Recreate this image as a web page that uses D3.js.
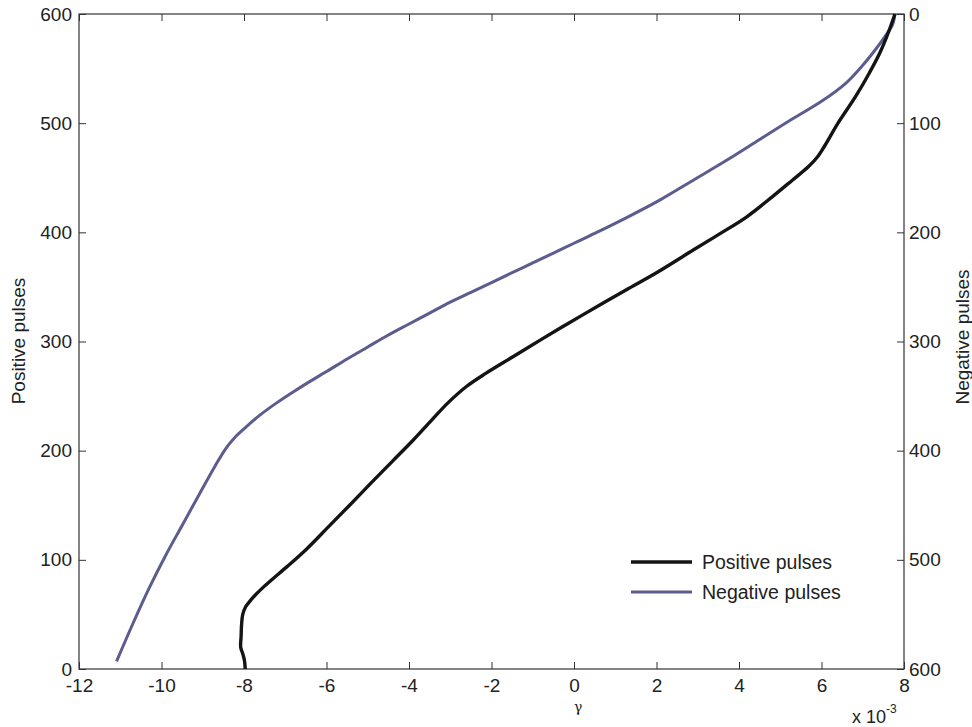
<!DOCTYPE html>
<html>
<head>
<meta charset="utf-8">
<script src="https://cdn.jsdelivr.net/npm/d3@7"></script>
<style>
  html, body { margin: 0; padding: 0; background: #fff; }
  svg { display: block; font-family: "Liberation Sans", Arial, Helvetica, sans-serif; }
</style>
</head>
<body>
<svg id="chart" width="972" height="727"></svg>
<script>
// ---- data (gamma in units of 1e-3) ----
const xTicks = [-12, -10, -8, -6, -4, -2, 0, 2, 4, 6, 8];
const yTicksLeft = [0, 100, 200, 300, 400, 500, 600];
const yTicksRight = [0, 100, 200, 300, 400, 500, 600];

// Positive pulses (left axis)
const positivePulse = [0, 8, 14, 20, 30, 40, 50, 57, 62, 68, 75, 82, 94, 110, 130, 150, 170, 190, 210, 228, 244, 259, 271, 286, 301, 313, 323, 347, 363, 384, 399, 414, 433, 448, 460, 470, 480, 500, 524, 546, 564, 585, 600];
const positiveGamma = [-7.97, -7.99, -8.03, -8.08, -8.07, -8.06, -8.03, -7.96, -7.86, -7.72, -7.53, -7.32, -6.95, -6.48, -5.96, -5.44, -4.93, -4.41, -3.89, -3.45, -3.05, -2.60, -2.13, -1.48, -0.83, -0.30, 0.15, 1.25, 2.0, 2.9, 3.55, 4.18, 4.82, 5.30, 5.68, 5.92, 6.09, 6.40, 6.82, 7.16, 7.41, 7.64, 7.78];

// Negative pulses (right axis, reversed)
const negativeGamma = [7.78, 7.72, 7.55, 7.3, 7.0, 6.6, 6.0, 5.3, 4.5, 3.7, 2.9, 2.1, 1.3, 0.5, 0.0, -0.5, -1.0, -1.5, -2.0, -2.5, -3.0, -3.5, -4.0, -4.5, -5.0, -5.5, -6.0, -6.4, -6.8, -7.2, -7.6, -8.0, -8.25, -8.45, -8.7, -9.1, -9.5, -9.9, -10.3, -10.7, -11.09];
const negativePulse = [0, 10, 20, 33, 47, 63, 80, 96, 115, 134, 152, 170, 186, 201, 210, 219, 228, 237, 246, 255, 264, 274, 284, 294, 305, 316, 327.5, 336.5, 346, 356, 367, 380, 389, 398.5, 414, 441, 468.5, 496, 526, 559, 593];

// ---- layout ----
const svg = d3.select("#chart");
const mLeft = 79, mRight = 904, mTop = 14, mBottom = 669;

const x = d3.scaleLinear().domain([-12, 8]).range([mLeft, mRight]);
const yL = d3.scaleLinear().domain([0, 600]).range([mBottom, mTop]);
const yR = d3.scaleLinear().domain([0, 600]).range([mTop, mBottom]);

const axisColor = "#333";
const fontSize = 19;
const fmt = d => String(d);

svg.append("rect")
  .attr("x", mLeft).attr("y", mTop)
  .attr("width", mRight - mLeft).attr("height", mBottom - mTop)
  .attr("fill", "none").attr("stroke", axisColor).attr("stroke-width", 1.2);

const tickLen = 7;
function styleAxis(g) {
  g.select(".domain").remove();
  g.selectAll(".tick line").attr("stroke", axisColor).attr("stroke-width", 1);
  g.selectAll(".tick text").attr("fill", "#222").style("font-size", fontSize + "px")
    .style("font-family", '"Liberation Sans", Arial, sans-serif');
}

svg.append("g").attr("transform", `translate(0,${mBottom})`)
  .call(d3.axisBottom(x).tickValues(xTicks).tickFormat(fmt)
    .tickSizeInner(-tickLen).tickSizeOuter(0).tickPadding(10))
  .call(styleAxis);
svg.append("g").attr("transform", `translate(0,${mTop})`)
  .call(d3.axisTop(x).tickValues(xTicks).tickFormat("")
    .tickSizeInner(-tickLen).tickSizeOuter(0))
  .call(styleAxis);
svg.append("g").attr("transform", `translate(${mLeft},0)`)
  .call(d3.axisLeft(yL).tickValues(yTicksLeft).tickFormat(fmt)
    .tickSizeInner(-tickLen).tickSizeOuter(0).tickPadding(7))
  .call(styleAxis);
svg.append("g").attr("transform", `translate(${mRight},0)`)
  .call(d3.axisRight(yR).tickValues(yTicksRight).tickFormat(fmt)
    .tickSizeInner(-tickLen).tickSizeOuter(0).tickPadding(5))
  .call(styleAxis);

// ---- lines ----
const posData = positiveGamma.map((g, i) => [g, positivePulse[i]]);
const negData = negativeGamma.map((g, i) => [g, negativePulse[i]]);

const linePos = d3.line().x(d => x(d[0])).y(d => yL(d[1])).curve(d3.curveCatmullRom.alpha(0.5));
const lineNeg = d3.line().x(d => x(d[0])).y(d => yR(d[1])).curve(d3.curveCatmullRom.alpha(0.5));

const posColor = "#141414";
const negColor = "#5c5c8e";

svg.append("path").datum(negData).attr("d", lineNeg)
  .attr("fill", "none").attr("stroke", negColor).attr("stroke-width", 3).attr("stroke-linejoin", "round");
svg.append("path").datum(posData).attr("d", linePos)
  .attr("fill", "none").attr("stroke", posColor).attr("stroke-width", 3.4).attr("stroke-linejoin", "round");

// ---- labels ----
svg.append("text").attr("x", x(0.1)).attr("y", 712)
  .attr("text-anchor", "middle").attr("fill", "#222")
  .style("font-family", '"DejaVu Serif", serif').style("font-size", "14px").text("γ");

const sci = svg.append("text").attr("x", 852).attr("y", 723).attr("fill", "#222")
  .style("font-size", "18px");
sci.append("tspan").text("x 10");
sci.append("tspan").attr("dy", -10).style("font-size", "12px").text("-3");

svg.append("text").attr("transform", `translate(25,341) rotate(-90)`)
  .attr("text-anchor", "middle").attr("fill", "#222").style("font-size", "19px").text("Positive pulses");
svg.append("text").attr("transform", `translate(969,337) rotate(-90)`)
  .attr("text-anchor", "middle").attr("fill", "#222").style("font-size", "19px").text("Negative pulses");

// ---- legend ----
const legendItems = [
  { label: "Positive pulses", color: posColor, w: 3.6 },
  { label: "Negative pulses", color: negColor, w: 3 }
];
const lg = svg.append("g");
legendItems.forEach((it, i) => {
  const yy = 562 + i * 30;
  lg.append("line").attr("x1", 631).attr("x2", 692).attr("y1", yy).attr("y2", yy)
    .attr("stroke", it.color).attr("stroke-width", it.w);
  lg.append("text").attr("x", 702).attr("y", yy + 7).attr("fill", "#222")
    .style("font-size", "19.5px").text(it.label);
});
</script>
</body>
</html>
